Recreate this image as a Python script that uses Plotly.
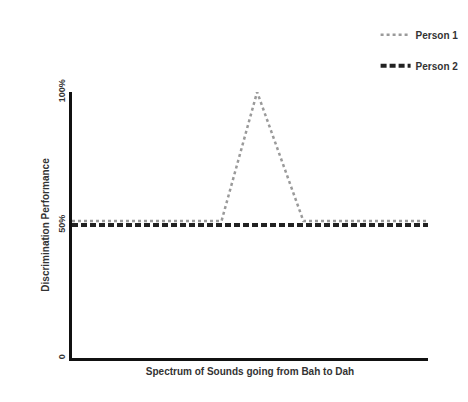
import plotly.graph_objects as go

# positions along the sound spectrum (0 = Bah, 1 = Dah)
spectrum_p1 = [0, 0.42, 0.52, 0.65, 1]
perf_p1 = [51.5, 51.5, 100, 51.5, 51.5]
spectrum_p2 = [0, 1]
perf_p2 = [50, 50]

font = dict(family="Liberation Sans", size=9, color="#333")

fig = go.Figure()
fig.add_trace(go.Scatter(x=spectrum_p1, y=perf_p1, mode="lines", name="Person 1",
                         line=dict(color="#9a9a9a", width=2.5, dash="dot"),
                         legendgroup="a"))
fig.add_trace(go.Scatter(x=spectrum_p2, y=perf_p2, mode="lines", name="Person 2",
                         line=dict(color="#222", width=4, dash="6px,3px"),
                         legendgroup="b"))

fig.update_layout(
    width=468, height=402,
    margin=dict(l=64, r=40, t=78, b=52),
    plot_bgcolor="white", paper_bgcolor="white",
    font=font,
    legend=dict(x=1.1, y=1.27, xanchor="right", yanchor="top",
                font=dict(family="Liberation Sans", size=10, color="#333", weight="bold"),
                bgcolor="rgba(0,0,0,0)", tracegroupgap=12),
    xaxis=dict(range=[0, 1], showticklabels=False, ticks="", showgrid=False,
               zeroline=False, showline=True, linecolor="#111", linewidth=3,
               title=dict(text="<b>Spectrum of Sounds going from Bah to Dah</b>",
                          standoff=8, font=dict(size=10))),
    yaxis=dict(range=[0, 100], tickvals=[0, 50, 100], ticktext=["0", "50%", "100%"],
               tickangle=-90, ticks="", showgrid=False, zeroline=False,
               showline=True, linecolor="#111", linewidth=3,
               tickfont=dict(size=9, weight="bold"),
               title=dict(text="<b>Discrimination Performance</b>", standoff=6,
                          font=dict(size=10))),
)

fig.write_html("out.html")
